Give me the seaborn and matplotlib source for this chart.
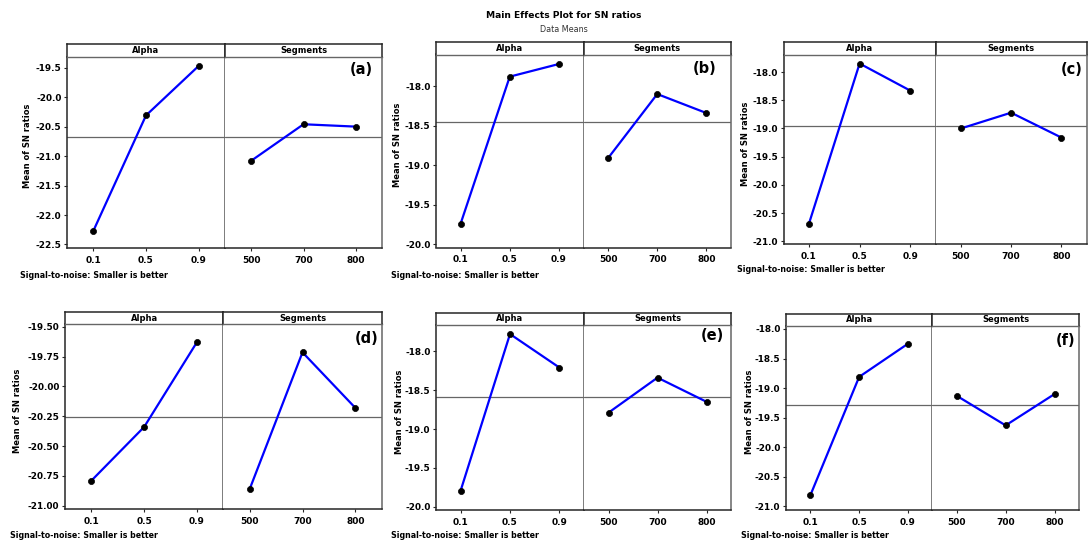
import numpy as np
import matplotlib
matplotlib.use("Agg")
import matplotlib.pyplot as plt
from matplotlib.ticker import FormatStrFormatter
import seaborn as sns

# ---------------- data ----------------
alpha_levels = ["0.1", "0.5", "0.9"]
segment_levels = ["500", "700", "800"]

a_alpha = [-22.27, -20.31, -19.47]
a_segments = [-21.08, -20.46, -20.50]
b_alpha = [-19.74, -17.88, -17.72]
b_segments = [-18.91, -18.10, -18.34]
c_alpha = [-20.69, -17.85, -18.33]
c_segments = [-19.00, -18.72, -19.16]
d_alpha = [-20.79, -20.34, -19.63]
d_segments = [-20.86, -19.715, -20.18]
e_alpha = [-19.79, -17.78, -18.21]
e_segments = [-18.79, -18.34, -18.65]
f_alpha = [-20.81, -18.81, -18.25]
f_segments = [-19.13, -19.63, -19.10]

panel_labels = ["(a)", "(b)", "(c)", "(d)", "(e)", "(f)"]
alpha_series = [a_alpha, b_alpha, c_alpha, d_alpha, e_alpha, f_alpha]
segment_series = [a_segments, b_segments, c_segments, d_segments, e_segments, f_segments]

a_ticks = [-22.5, -22.0, -21.5, -21.0, -20.5, -20.0, -19.5]
b_ticks = [-20.0, -19.5, -19.0, -18.5, -18.0]
c_ticks = [-21.0, -20.5, -20.0, -19.5, -19.0, -18.5, -18.0]
d_ticks = [-21.00, -20.75, -20.50, -20.25, -20.00, -19.75, -19.50]
e_ticks = [-20.0, -19.5, -19.0, -18.5, -18.0]
f_ticks = [-21.0, -20.5, -20.0, -19.5, -19.0, -18.5, -18.0]
tick_lists = [a_ticks, b_ticks, c_ticks, d_ticks, e_ticks, f_ticks]
tick_formats = ["%.1f", "%.1f", "%.1f", "%.2f", "%.1f", "%.1f"]

title_text = "Main Effects Plot for SN ratios"
subtitle_text = "Data Means"
factor_names = ["Alpha", "Segments"]
y_label = "Mean of SN ratios"
note_text = "Signal-to-noise: Smaller is better"

# ---------------- layout (pixels) ----------------
W, H = 1088, 542
# left, divider, right, top, header-bottom, bottom
boxes = [
    (67, 225, 382, 44, 56.5, 248),
    (436, 583.5, 731, 42, 54.5, 247.5),
    (783.5, 935.7, 1086.5, 42, 54.5, 244.3),
    (65, 223.3, 381.7, 312.3, 324.3, 509.3),
    (436, 584, 731, 312.7, 324.7, 510),
    (786, 932.3, 1079, 313.7, 326, 510),
]
y_limits = [(-22.56, -19.31), (-20.04, -17.60), (-21.05, -17.69),
            (-21.03, -19.48), (-20.04, -17.66), (-21.06, -17.95)]
ylabel_x = [28, 398, 745, 18, 399, 749]
note_pos = [(20, 276), (391, 275), (737, 270), (10, 536), (391, 536), (741, 536)]
label_pos = [(373, 62), (716, 61), (1083, 62), (378, 331), (724, 328), (1075, 333)]

sns.set_style("ticks")
plt.rcParams["font.family"] = ["DejaVu Sans"]
plt.rcParams["axes.unicode_minus"] = False
plt.rcParams["text.color"] = "black"
plt.rcParams["xtick.color"] = "black"
plt.rcParams["ytick.color"] = "black"
plt.rcParams["xtick.labelcolor"] = "black"
plt.rcParams["ytick.labelcolor"] = "black"

fig = plt.figure(figsize=(W / 100, H / 100), dpi=100)

DARK = "#262626"
GRAY = "#666666"
FS = 6.0


def frac_rect(l, r, t, b):
    return [l / W, 1 - b / H, (r - l) / W, (b - t) / H]


for i in range(6):
    l, d, r, t, hb, b = boxes[i]
    ax1 = fig.add_axes(frac_rect(l, d, hb, b))
    ax2 = fig.add_axes(frac_rect(d, r, hb, b), sharey=ax1)
    h1 = fig.add_axes(frac_rect(l, d, t, hb))
    h2 = fig.add_axes(frac_rect(d, r, t, hb))

    mean_val = float(np.mean(alpha_series[i] + segment_series[i]))

    for ax, levels, vals in [(ax1, alpha_levels, alpha_series[i]),
                             (ax2, segment_levels, segment_series[i])]:
        ax.axhline(mean_val, color=GRAY, lw=0.9, zorder=1)
        sns.pointplot(x=levels, y=vals, ax=ax, color="#0000ff", marker="",
                      linestyle="-", linewidth=1.6, errorbar=None, zorder=2)
        sns.pointplot(x=levels, y=vals, ax=ax, color="black", marker="o",
                      linestyle="none", markersize=4.4, markeredgewidth=0.5,
                      errorbar=None, zorder=3)
        ax.set_xlabel("")
        ax.set_ylabel("")
        ax.set_facecolor("white")
        ax.tick_params(axis="x", direction="out", length=2.5, width=0.8,
                       color=DARK, pad=3, labelsize=6.5, labelcolor="black")
        for lab in ax.get_xticklabels():
            lab.set_fontweight("bold")
        ax.spines["top"].set_visible(False)
        ax.spines["bottom"].set_color(DARK)
        ax.spines["bottom"].set_linewidth(1.1)

    ax1.set_ylim(*y_limits[i])
    ax1.set_yticks(tick_lists[i])
    ax1.yaxis.set_major_formatter(FormatStrFormatter(tick_formats[i]))
    ax1.tick_params(axis="y", direction="out", length=2.5, width=0.8,
                    color=DARK, pad=1.5, labelsize=6.4, labelcolor="black")
    for lab in ax1.get_yticklabels():
        lab.set_fontweight("bold")
    ax2.tick_params(axis="y", left=False, labelleft=False)

    ax1.spines["left"].set_color(DARK)
    ax1.spines["left"].set_linewidth(1.1)
    ax1.spines["right"].set_color(GRAY)
    ax1.spines["right"].set_linewidth(1.2)
    ax2.spines["left"].set_visible(False)
    ax2.spines["right"].set_color(GRAY)
    ax2.spines["right"].set_linewidth(1.1)

    for h, name in [(h1, factor_names[0]), (h2, factor_names[1])]:
        h.set_xticks([])
        h.set_yticks([])
        h.set_facecolor("white")
        for s in ["top", "left", "right"]:
            h.spines[s].set_color(DARK)
            h.spines[s].set_linewidth(1.1)
        h.spines["bottom"].set_color(GRAY)
        h.spines["bottom"].set_linewidth(1.0)
        h.text(0.5, 0.5, name, ha="center", va="center", fontsize=FS,
               fontweight="bold", color="black", transform=h.transAxes)

    fig.text(ylabel_x[i] / W, 1 - ((hb + b) / 2 - 6) / H, y_label,
             rotation=90, ha="center", va="center", fontsize=FS,
             fontweight="bold", color="black")
    fig.text(note_pos[i][0] / W, 1 - note_pos[i][1] / H, note_text,
             ha="left", va="center", fontsize=5.7, fontweight="bold",
             color="black")
    fig.text(label_pos[i][0] / W, 1 - label_pos[i][1] / H, panel_labels[i],
             ha="right", va="top", fontsize=10.5, fontweight="heavy",
             color="black")

fig.text(564 / W, 1 - 15 / H, title_text, ha="center", va="center",
         fontsize=6.6, fontweight="bold", color="black")
fig.text(564 / W, 1 - 29 / H, subtitle_text, ha="center", va="center",
         fontsize=5.8, color="#333333")

fig.savefig("out.png", dpi=100, facecolor="white")
